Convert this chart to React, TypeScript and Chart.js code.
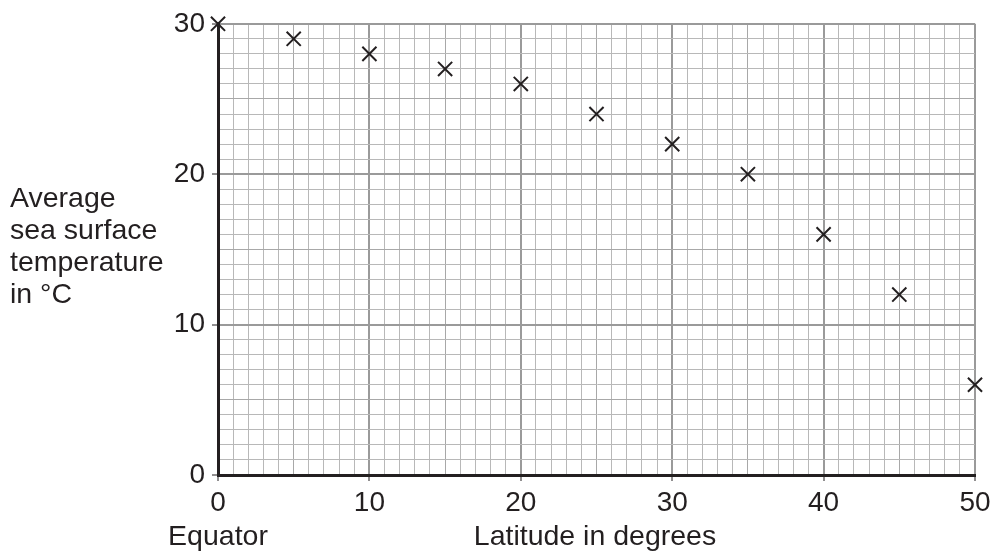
import React, { useEffect, useRef } from "react";
import { Chart, registerables } from "chart.js";

Chart.register(...registerables);

const latitudes = [0, 5, 10, 15, 20, 25, 30, 35, 40, 45, 50];
const temperatures = [30, 29, 28, 27, 26, 24, 22, 20, 16, 12, 6];
const xTickLabels = [0, 10, 20, 30, 40, 50];
const yTickLabels = [0, 10, 20, 30];
const yTitleLines = ["Average", "sea surface", "temperature", "in °C"];
const xTitleLeft = "Equator";
const xTitleMain = "Latitude in degrees";

const FONT = "Arial, 'Liberation Sans', Helvetica, sans-serif";
const INK = "#231f20";

const gridColor = (v: number) => (v % 10 === 0 ? "#9a9a9a" : v % 5 === 0 ? "#a8a8a8" : "#b8b8b8");
const gridWidth = (v: number) => (v % 10 === 0 ? 2 : 1);

const titlesPlugin = {
  id: "titles",
  afterDraw(chart: any) {
    const ctx = chart.ctx;
    ctx.save();
    ctx.fillStyle = INK;
    ctx.font = `28.5px ${FONT}`;
    ctx.textAlign = "left";
    ctx.textBaseline = "alphabetic";
    yTitleLines.forEach((line, i) => {
      ctx.fillText(line, 10, 207 + i * 32);
    });
    const x0 = chart.scales.x.getPixelForValue(0);
    ctx.textAlign = "center";
    ctx.fillText(xTitleLeft, x0, 545);
    ctx.fillText(xTitleMain, 595, 545);
    ctx.restore();
  },
};

export default function App() {
  const ref = useRef<HTMLCanvasElement>(null);
  useEffect(() => {
    if (!ref.current) return;
    const chart = new Chart(ref.current, {
      type: "scatter",
      data: {
        datasets: [
          {
            data: latitudes.map((x, i) => ({ x, y: temperatures[i] })),
            pointStyle: "crossRot",
            pointRadius: 10,
            pointHoverRadius: 10,
            borderColor: INK,
            backgroundColor: INK,
            pointBorderWidth: 2,
            borderWidth: 2,
            clip: false as any,
          },
        ],
      },
      options: {
        responsive: false,
        animation: false,
        layout: { padding: { top: 22, right: 21, left: 0, bottom: 0 } },
        plugins: { legend: { display: false }, tooltip: { enabled: false } },
        scales: {
          x: {
            type: "linear",
            min: 0,
            max: 50,
            afterFit: (s: any) => {
              s.height = 79;
            },
            afterBuildTicks: (s: any) => {
              const t = [];
              for (let v = 0; v <= 50; v++) t.push({ value: v });
              s.ticks = t;
            },
            ticks: {
              autoSkip: false,
              maxRotation: 0,
              padding: 5,
              color: INK,
              font: { family: FONT, size: 28 },
              callback: (v: any) => (xTickLabels.includes(Number(v)) ? String(v) : ""),
            },
            grid: {
              color: (c: any) => gridColor(c.tick.value),
              lineWidth: (c: any) => gridWidth(c.tick.value),
              tickColor: (c: any) => (xTickLabels.includes(c.tick.value) ? INK : "rgba(0,0,0,0)"),
              tickLength: 6,
              tickWidth: 1,
            },
            border: { display: true, color: INK, width: 3 },
          },
          y: {
            type: "linear",
            min: 0,
            max: 30,
            afterFit: (s: any) => {
              s.width = 218;
            },
            afterBuildTicks: (s: any) => {
              const t = [];
              for (let v = 0; v <= 30; v++) t.push({ value: v });
              s.ticks = t;
            },
            ticks: {
              autoSkip: false,
              padding: 7,
              color: INK,
              font: { family: FONT, size: 28 },
              callback: (v: any) => (yTickLabels.includes(Number(v)) ? String(v) : ""),
            },
            grid: {
              color: (c: any) => gridColor(c.tick.value),
              lineWidth: (c: any) => gridWidth(c.tick.value),
              tickColor: (c: any) => (yTickLabels.includes(c.tick.value) ? INK : "rgba(0,0,0,0)"),
              tickLength: 6,
              tickWidth: 1,
            },
            border: { display: true, color: INK, width: 3 },
          },
        },
      },
      plugins: [titlesPlugin],
    });
    return () => chart.destroy();
  }, []);
  return (
    <div style={{ position: "fixed", left: 0, top: 0, width: 996, height: 554, background: "#fff" }}>
      <canvas ref={ref} width={996} height={554} style={{ width: 996, height: 554, display: "block" }} />
    </div>
  );
}
